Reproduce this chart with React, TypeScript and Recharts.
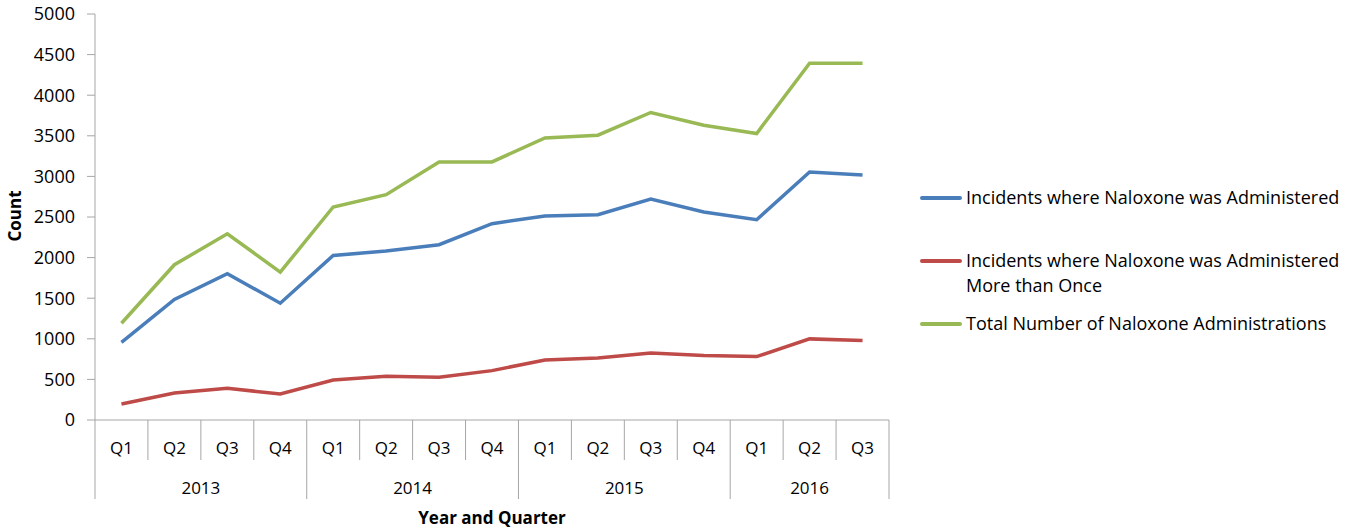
import { LineChart, Line, XAxis, YAxis, Label } from 'recharts';

const quarters = ['Q1', 'Q2', 'Q3', 'Q4', 'Q1', 'Q2', 'Q3', 'Q4', 'Q1', 'Q2', 'Q3', 'Q4', 'Q1', 'Q2', 'Q3'];
const years = ['2013', '2013', '2013', '2013', '2014', '2014', '2014', '2014', '2015', '2015', '2015', '2015', '2016', '2016', '2016'];

const incidents = [957, 1484, 1801, 1438, 2027, 2080, 2159, 2418, 2512, 2529, 2721, 2561, 2467, 3054, 3017];
const incidentsMultiple = [197, 333, 390, 321, 493, 538, 526, 608, 740, 765, 826, 793, 781, 999, 978];
const totalAdministrations = [1192, 1912, 2294, 1821, 2623, 2775, 3178, 3178, 3474, 3507, 3787, 3630, 3528, 4395, 4395];

const yTicks = [0, 500, 1000, 1500, 2000, 2500, 3000, 3500, 4000, 4500, 5000];

const SERIES = [
  { key: 'incidents', name: 'Incidents where Naloxone was Administered', color: '#4a7ebb', values: incidents },
  { key: 'multiple', name: 'Incidents where Naloxone was Administered More than Once', color: '#be4b48', values: incidentsMultiple },
  { key: 'total', name: 'Total Number of Naloxone Administrations', color: '#98b954', values: totalAdministrations },
];

const data = quarters.map((q, i) => {
  const row: Record<string, string | number> = { id: i, q, year: years[i] };
  SERIES.forEach(s => { row[s.key] = s.values[i]; });
  return row;
});

const W = 900;
const H = 529;
const Y_AXIS_W = 95;
const RIGHT = 11;
const STEP = (W - Y_AXIS_W - RIGHT) / quarters.length;
const AXIS_GREY = '#a6a6a6';
const FONT = '"Open Sans", sans-serif';

function QuarterTick(props: any) {
  const { x, y, index } = props;
  const i = index as number;
  const left = x - STEP / 2;
  const yearStart = i === 0 || years[i] !== years[i - 1];
  const isLast = i === quarters.length - 1;
  let yearLabel = null;
  if (yearStart) {
    let n = 1;
    while (i + n < years.length && years[i + n] === years[i]) n++;
    yearLabel = (
      <text x={x + (n - 1) * STEP / 2} y={y + 74} textAnchor="middle" fontSize={17} fontFamily={FONT} fill="#000">
        {years[i]}
      </text>
    );
  }
  return (
    <g>
      <line x1={left} x2={left} y1={y} y2={y + (yearStart ? 79 : 40)} stroke={AXIS_GREY} strokeWidth={1} />
      {isLast && <line x1={x + STEP / 2} x2={x + STEP / 2} y1={y} y2={y + 79} stroke={AXIS_GREY} strokeWidth={1} />}
      <text x={x} y={y + 34} textAnchor="middle" fontSize={17} fontFamily={FONT} fill="#000">
        {quarters[i]}
      </text>
      {yearLabel}
    </g>
  );
}

export default function App() {
  return (
    <div style={{ position: 'absolute', left: 0, top: 0, width: 1355, height: H, background: '#fff' }}>
      <LineChart width={W} height={H} data={data} margin={{ top: 14, right: RIGHT, bottom: 0, left: 0 }}>
        <XAxis
          dataKey="id"
          type="category"
          height={109}
          tickSize={0}
          tickMargin={0}
          interval={0}
          padding={{ left: STEP / 2, right: STEP / 2 }}
          stroke={AXIS_GREY}
          tick={<QuarterTick />}
        >
          <Label
            content={() => (
              <text x={(Y_AXIS_W + W - RIGHT) / 2} y={524} textAnchor="middle" fontSize={17} fontWeight="bold" fontFamily={FONT} fill="#000">
                Year and Quarter
              </text>
            )}
          />
        </XAxis>
        <YAxis
          width={Y_AXIS_W}
          domain={[0, 5000]}
          ticks={yTicks}
          interval={0}
          tickSize={8}
          tickMargin={12}
          stroke={AXIS_GREY}
          tick={{ fontSize: 18, fontFamily: FONT, fill: '#000' }}
        >
          <Label
            content={() => (
              <text x={21} y={216} transform="rotate(-90 21 216)" textAnchor="middle" fontSize={17} fontWeight="bold" fontFamily={FONT} fill="#000">
                Count
              </text>
            )}
          />
        </YAxis>
        {SERIES.map(s => (
          <Line
            key={s.key}
            dataKey={s.key}
            name={s.name}
            stroke={s.color}
            strokeWidth={3.5}
            dot={false}
            activeDot={false}
            isAnimationActive={false}
          />
        ))}
      </LineChart>
      <div style={{ position: 'absolute', left: 920, top: 185, fontFamily: FONT, fontSize: 18, lineHeight: '25px', color: '#000' }}>
        {SERIES.map((s, i) => (
          <div key={s.key} style={{ display: 'flex', alignItems: 'flex-start', marginBottom: i === 0 ? 38 : 13 }}>
            <div style={{ width: 42, height: 3.5, background: s.color, marginTop: 11, marginRight: 4, borderRadius: 2, flexShrink: 0 }} />
            <div style={{ width: 390 }}>{s.name}</div>
          </div>
        ))}
      </div>
    </div>
  );
}
